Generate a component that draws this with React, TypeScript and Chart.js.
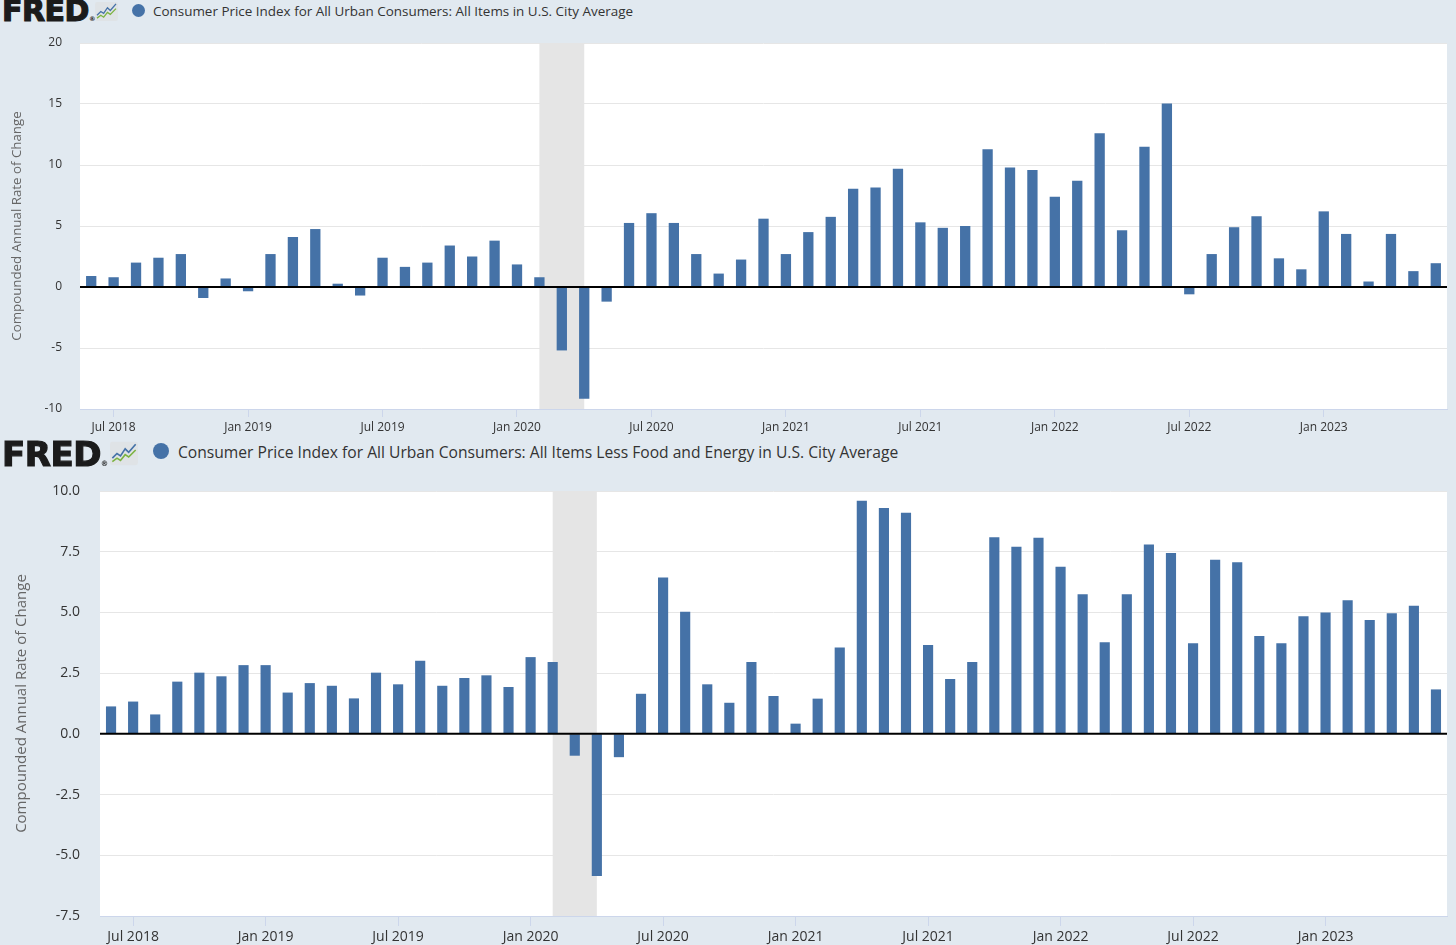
import { useEffect, useRef } from 'react'
import Chart from 'chart.js/auto'

// monthly observations, Jun 2018 .. Jun 2023
const months = [
  'Jun 2018', 'Jul 2018', 'Aug 2018', 'Sep 2018', 'Oct 2018', 'Nov 2018', 'Dec 2018',
  'Jan 2019', 'Feb 2019', 'Mar 2019', 'Apr 2019', 'May 2019', 'Jun 2019',
  'Jul 2019', 'Aug 2019', 'Sep 2019', 'Oct 2019', 'Nov 2019', 'Dec 2019',
  'Jan 2020', 'Feb 2020', 'Mar 2020', 'Apr 2020', 'May 2020', 'Jun 2020',
  'Jul 2020', 'Aug 2020', 'Sep 2020', 'Oct 2020', 'Nov 2020', 'Dec 2020',
  'Jan 2021', 'Feb 2021', 'Mar 2021', 'Apr 2021', 'May 2021', 'Jun 2021',
  'Jul 2021', 'Aug 2021', 'Sep 2021', 'Oct 2021', 'Nov 2021', 'Dec 2021',
  'Jan 2022', 'Feb 2022', 'Mar 2022', 'Apr 2022', 'May 2022', 'Jun 2022',
  'Jul 2022', 'Aug 2022', 'Sep 2022', 'Oct 2022', 'Nov 2022', 'Dec 2022',
  'Jan 2023', 'Feb 2023', 'Mar 2023', 'Apr 2023', 'May 2023', 'Jun 2023',
]

// CPI, all items (compounded annual rate of change)
const cpiAll = [
  0.9, 0.8, 2.0, 2.4, 2.7, -0.9, 0.7,
  -0.35, 2.7, 4.1, 4.75, 0.27, -0.7,
  2.4, 1.65, 2.0, 3.4, 2.5, 3.8,
  1.85, 0.8, -5.2, -9.15, -1.2, 5.25,
  6.05, 5.25, 2.7, 1.1, 2.25, 5.6,
  2.7, 4.5, 5.75, 8.05, 8.15, 9.7,
  5.3, 4.85, 5.0, 11.3, 9.8, 9.6,
  7.4, 8.7, 12.6, 4.65, 11.5, 15.05,
  -0.6, 2.7, 4.9, 5.8, 2.35, 1.45,
  6.2, 4.35, 0.45, 4.35, 1.3, 1.95,
]

// CPI, all items less food and energy
const cpiCore = [
  1.13, 1.33, 0.8, 2.15, 2.52, 2.37, 2.83,
  2.83, 1.7, 2.09, 1.98, 1.46, 2.52,
  2.04, 3.01, 1.98, 2.3, 2.41, 1.93,
  3.16, 2.96, -0.9, -5.85, -0.96, 1.65,
  6.44, 5.03, 2.04, 1.28, 2.96, 1.56,
  0.42, 1.45, 3.56, 9.6, 9.3, 9.1,
  3.66, 2.26, 2.96, 8.1, 7.7, 8.07,
  6.88, 5.75, 3.77, 5.75, 7.8, 7.45,
  3.73, 7.17, 7.07, 4.03, 3.73, 4.84,
  5.0, 5.5, 4.69, 4.97, 5.28, 1.83,
]

const recession = ['Feb 2020', 'Apr 2020']

const seriesTitles = [
  'Consumer Price Index for All Urban Consumers: All Items in U.S. City Average',
  'Consumer Price Index for All Urban Consumers: All Items Less Food and Energy in U.S. City Average',
]

const yTitle = 'Compounded Annual Rate of Change'
const BAR = '#4572a7'
const FONT = '"Open Sans", "Noto Sans", sans-serif'

interface FredChartProps {
  values: number[]
  yMin: number
  yMax: number
  yStep: number
  decimals: number
  tickSize: number
  titleSize: number
  titlePad: number
  yWidth: number
  yTickPad: number
  xHeight: number
  tickLen: number
  padTop: number
  padRight: number
}

const decor = {
  id: 'fredDecor',
  beforeDraw(chart: any) {
    const { ctx, chartArea: a } = chart
    ctx.save()
    ctx.fillStyle = '#ffffff'
    ctx.fillRect(a.left, a.top, a.right - a.left, a.bottom - a.top)
    ctx.restore()
  },
  beforeDatasetsDraw(chart: any) {
    const { ctx, chartArea: a } = chart
    const x = chart.scales.x
    const x0 = x.getPixelForValue(months.indexOf(recession[0]))
    const x1 = x.getPixelForValue(months.indexOf(recession[1]))
    ctx.save()
    ctx.fillStyle = '#e5e5e5'
    ctx.fillRect(x0, a.top, x1 - x0, a.bottom - a.top)
    ctx.restore()
  },
  afterDatasetsDraw(chart: any) {
    const { ctx, chartArea: a } = chart
    const y0 = chart.scales.y.getPixelForValue(0)
    ctx.save()
    ctx.strokeStyle = '#000000'
    ctx.lineWidth = 2
    ctx.beginPath()
    ctx.moveTo(a.left, y0)
    ctx.lineTo(a.right, y0)
    ctx.stroke()
    ctx.restore()
  },
}

function FredChart(p: FredChartProps) {
  const canvasRef = useRef<HTMLCanvasElement>(null)
  const chartRef = useRef<Chart | null>(null)

  useEffect(() => {
    if (!canvasRef.current) return
    if (chartRef.current) chartRef.current.destroy()

    const isLabelled = (i: number) => /^(Jan|Jul)/.test(months[i])

    chartRef.current = new Chart(canvasRef.current, {
      type: 'bar',
      data: {
        labels: months,
        datasets: [
          {
            data: p.values,
            backgroundColor: BAR,
            borderWidth: 0,
            barPercentage: 0.46,
            categoryPercentage: 1,
          },
        ],
      },
      options: {
        responsive: true,
        maintainAspectRatio: false,
        animation: false,
        layout: { padding: { top: p.padTop, right: p.padRight, left: 0, bottom: 0 } },
        plugins: { legend: { display: false }, tooltip: { enabled: false } },
        scales: {
          x: {
            offset: true,
            afterFit: (s: any) => {
              s.height = p.xHeight
            },
            grid: {
              offset: false,
              drawOnChartArea: false,
              drawTicks: true,
              tickLength: p.tickLen,
              color: (c: any) => (isLabelled(c.index) ? '#ccd6eb' : 'rgba(0,0,0,0)'),
            },
            border: { display: true, color: '#ccd6eb', width: 1 },
            ticks: {
              autoSkip: false,
              maxRotation: 0,
              padding: 3,
              color: '#333333',
              font: { family: FONT, size: p.tickSize },
              callback: (_v: any, i: number) => (isLabelled(i) ? months[i] : ''),
            },
          },
          y: {
            min: p.yMin,
            max: p.yMax,
            afterFit: (s: any) => {
              s.width = p.yWidth
              s.paddingTop = 0
              s.paddingBottom = 0
            },
            grid: { color: '#e6e6e6', drawTicks: false, lineWidth: 1 },
            border: { display: false },
            ticks: {
              stepSize: p.yStep,
              padding: p.yTickPad,
              color: '#333333',
              font: { family: FONT, size: p.tickSize },
              callback: (v: any) => Number(v).toFixed(p.decimals),
            },
            title: {
              display: true,
              text: yTitle,
              color: '#666666',
              font: { family: FONT, size: p.titleSize },
              padding: { top: p.titlePad, bottom: 0 },
            },
          },
        },
      },
      plugins: [decor],
    })

    return () => {
      if (chartRef.current) {
        chartRef.current.destroy()
        chartRef.current = null
      }
    }
  }, [p])

  return <canvas ref={canvasRef} />
}

function FredIcon({ w, h }: { w: number; h: number }) {
  return (
    <svg width={w} height={h} viewBox="0 0 24 20">
      <rect x="0" y="0" width="24" height="20" rx="2" fill="#dfe3e6" />
      <polyline points="2,14 6,10 9,12 13,6 16,9 22,2" fill="none" stroke="#4572a7" strokeWidth="1.4" />
      <polyline points="2,17 6,14 9,16 13,11 16,13 22,7" fill="none" stroke="#7cb342" strokeWidth="1.4" />
    </svg>
  )
}

interface HeaderProps {
  top: number
  logoSize: number
  iconX: number
  iconW: number
  iconH: number
  iconTop: number
  dotX: number
  dotY: number
  dotR: number
  textX: number
  textY: number
  textSize: number
  text: string
}

function Header(h: HeaderProps) {
  return (
    <>
      <div
        style={{
          position: 'absolute',
          left: 2,
          top: h.top,
          fontFamily: '"DejaVu Sans", sans-serif',
          fontWeight: 700,
          fontSize: h.logoSize,
          lineHeight: `${h.logoSize}px`,
          color: '#1b1b1b',
          letterSpacing: -0.5,
          WebkitTextStroke: '1.2px #1b1b1b',
          whiteSpace: 'nowrap',
        }}
      >
        FRED
        <span style={{ fontSize: h.logoSize * 0.22, WebkitTextStroke: '0px', verticalAlign: 'baseline' }}>®</span>
      </div>
      <div style={{ position: 'absolute', left: h.iconX, top: h.iconTop }}>
        <FredIcon w={h.iconW} h={h.iconH} />
      </div>
      <div
        style={{
          position: 'absolute',
          left: h.dotX - h.dotR,
          top: h.dotY - h.dotR,
          width: h.dotR * 2,
          height: h.dotR * 2,
          borderRadius: '50%',
          background: BAR,
        }}
      />
      <div
        style={{
          position: 'absolute',
          left: h.textX,
          top: h.textY - h.textSize * 0.7,
          fontFamily: FONT,
          fontSize: h.textSize,
          lineHeight: `${h.textSize * 1.4}px`,
          color: '#333333',
          whiteSpace: 'nowrap',
        }}
      >
        {h.text}
      </div>
    </>
  )
}

const topProps: FredChartProps = {
  values: cpiAll,
  yMin: -10,
  yMax: 20,
  yStep: 5,
  decimals: 0,
  tickSize: 12,
  titleSize: 13.3,
  titlePad: 9,
  yWidth: 80,
  yTickPad: 18,
  xHeight: 28,
  tickLen: 8,
  padTop: 18,
  padRight: 9,
}

const bottomProps: FredChartProps = {
  values: cpiCore,
  yMin: -7.5,
  yMax: 10,
  yStep: 2.5,
  decimals: 1,
  tickSize: 14,
  titleSize: 15,
  titlePad: 13,
  yWidth: 100,
  yTickPad: 20,
  xHeight: 29,
  tickLen: 10,
  padTop: 16,
  padRight: 9,
}

export default function App() {
  return (
    <div
      style={{
        position: 'fixed',
        left: 0,
        top: 0,
        width: 1456,
        height: 945,
        background: '#e1e9f0',
        overflow: 'hidden',
      }}
    >
      <Header
        top={-4}
        logoSize={30}
        iconX={95}
        iconW={23}
        iconH={19}
        iconTop={2}
        dotX={138}
        dotY={10}
        dotR={6.5}
        textX={153}
        textY={11}
        textSize={13.45}
        text={seriesTitles[0]}
      />
      <div style={{ position: 'absolute', left: 0, top: 25, width: 1456, height: 412 }}>
        <FredChart {...topProps} />
      </div>
      <Header
        top={437}
        logoSize={34}
        iconX={110}
        iconW={28}
        iconH={25}
        iconTop={441}
        dotX={161}
        dotY={451}
        dotR={8}
        textX={178}
        textY={453}
        textSize={15.63}
        text={seriesTitles[1]}
      />
      <div style={{ position: 'absolute', left: 0, top: 475, width: 1456, height: 470 }}>
        <FredChart {...bottomProps} />
      </div>
    </div>
  )
}
